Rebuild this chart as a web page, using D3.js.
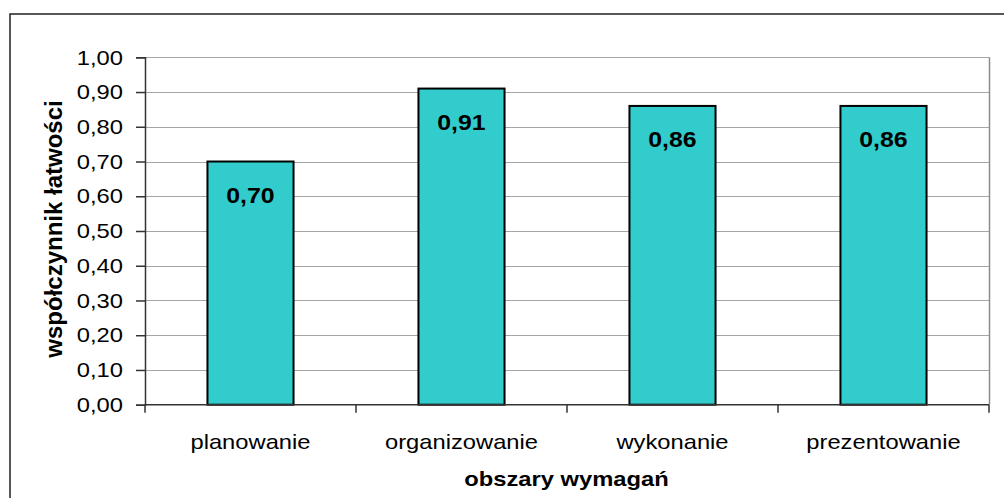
<!DOCTYPE html>
<html>
<head>
<meta charset="utf-8">
<script src="https://cdn.jsdelivr.net/npm/d3@7"></script>
<style>
  html, body { margin: 0; padding: 0; background: #fff; }
  svg { display: block; font-family: Arial, "Liberation Sans", sans-serif; }
</style>
</head>
<body>
<svg id="chart" width="1004" height="498"></svg>
<script>
// Categories and values
const categories = ["planowanie", "organizowanie", "wykonanie", "prezentowanie"];
const values = [0.70, 0.91, 0.86, 0.86];
const yTicks = [0, 0.1, 0.2, 0.3, 0.4, 0.5, 0.6, 0.7, 0.8, 0.9, 1.0];
const yTitle = "współczynnik łatwości";
const xTitle = "obszary wymagań";

const fmt = v => v.toFixed(2).replace(".", ",");

const svg = d3.select("#chart");
const W = 1004, H = 498;
const plot = { left: 145, right: 989, top: 57.3, bottom: 404.7 };

// Text in this chart is set slightly wide; widen glyphs horizontally
const WIDEN = 1.13;
function widen(sel, k = WIDEN) {
  sel.each(function () {
    const len = this.getComputedTextLength();
    d3.select(this).attr("textLength", len * k).attr("lengthAdjust", "spacingAndGlyphs");
  });
}

// Outer chart frame (extends past the visible edges)
svg.append("rect")
  .attr("x", 10).attr("y", 14)
  .attr("width", W + 20).attr("height", H + 20)
  .attr("fill", "#fff").attr("stroke", "#222").attr("stroke-width", 1.5);

const x = d3.scaleBand()
  .domain(categories)
  .range([plot.left, plot.right])
  .paddingInner(0.592)
  .paddingOuter(0.296);

const y = d3.scaleLinear()
  .domain([0, 1])
  .range([plot.bottom, plot.top]);

// Gridlines
svg.append("g")
  .selectAll("line")
  .data(yTicks.filter(t => t > 0))
  .join("line")
  .attr("x1", plot.left).attr("x2", plot.right)
  .attr("y1", d => Math.round(y(d)) + 0.5).attr("y2", d => Math.round(y(d)) + 0.5)
  .attr("stroke", "#a6a6a6").attr("stroke-width", 1);

// Plot area right border
svg.append("line")
  .attr("x1", plot.right + 0.5).attr("x2", plot.right + 0.5)
  .attr("y1", y(1)).attr("y2", y(0))
  .attr("stroke", "#8c8c8c").attr("stroke-width", 1.5);

// Bars
svg.append("g")
  .selectAll("rect")
  .data(categories)
  .join("rect")
  .attr("x", d => x(d))
  .attr("y", (d, i) => y(values[i]))
  .attr("width", x.bandwidth())
  .attr("height", (d, i) => y(0) - y(values[i]))
  .attr("fill", "#33CCCC")
  .attr("stroke", "#000").attr("stroke-width", 2);

// Value labels
svg.append("g")
  .selectAll("text")
  .data(categories)
  .join("text")
  .attr("x", d => x(d) + x.bandwidth() / 2)
  .attr("y", (d, i) => y(values[i]) + 41)
  .attr("text-anchor", "middle")
  .attr("font-size", 22).attr("font-weight", "bold")
  .attr("fill", "#000")
  .text((d, i) => fmt(values[i]))
  .call(widen);

// Y axis
const yAxis = d3.axisLeft(y).tickValues(yTicks).tickFormat(fmt).tickSize(9).tickPadding(13);
const gy = svg.append("g").attr("transform", `translate(${plot.left},0)`).call(yAxis);
gy.select(".domain").attr("stroke", "#333").attr("stroke-width", 1.5);
gy.selectAll(".tick line").attr("stroke", "#333").attr("stroke-width", 1.5);
gy.selectAll(".tick text")
  .attr("font-size", 21).attr("fill", "#000")
  .attr("font-family", "Arial, 'Liberation Sans', sans-serif")
  .call(widen);

// X axis baseline and boundary ticks
const boundaries = d3.range(categories.length + 1).map(i => plot.left + i * x.step());
svg.append("line")
  .attr("x1", plot.left).attr("x2", plot.right)
  .attr("y1", y(0)).attr("y2", y(0))
  .attr("stroke", "#333").attr("stroke-width", 1.5);
svg.append("g")
  .selectAll("line")
  .data(boundaries)
  .join("line")
  .attr("x1", d => d).attr("x2", d => d)
  .attr("y1", y(0)).attr("y2", y(0) + 8)
  .attr("stroke", "#333").attr("stroke-width", 1.5);

// Category labels
svg.append("g")
  .selectAll("text")
  .data(categories)
  .join("text")
  .attr("x", d => x(d) + x.bandwidth() / 2)
  .attr("y", 449)
  .attr("text-anchor", "middle")
  .attr("font-size", 21)
  .attr("fill", "#000")
  .text(d => d)
  .call(widen);

// Axis titles
svg.append("text")
  .attr("x", 566.5)
  .attr("y", 486)
  .attr("text-anchor", "middle")
  .attr("font-size", 21).attr("font-weight", "bold")
  .text(xTitle)
  .call(widen);

svg.append("text")
  .attr("transform", `translate(62, ${(plot.top + plot.bottom) / 2 - 2}) rotate(-90)`)
  .attr("text-anchor", "middle")
  .attr("font-size", 24).attr("font-weight", "bold")
  .text(yTitle);
</script>
</body>
</html>
